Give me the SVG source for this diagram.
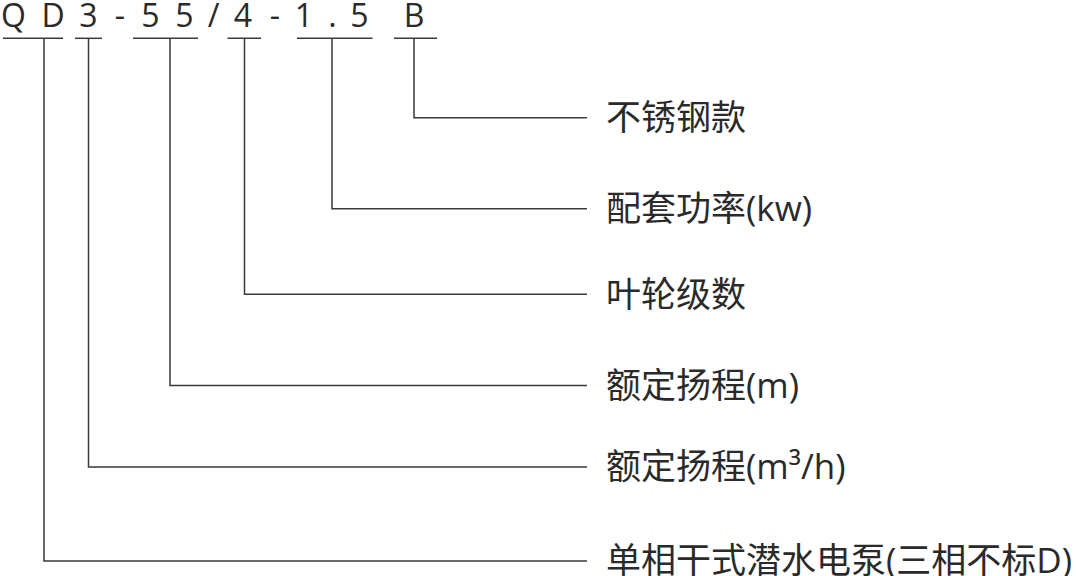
<svg xmlns="http://www.w3.org/2000/svg" width="1076" height="576" viewBox="0 0 1076 576">
<style>
  .code { font-family: "Open Sans", "Noto Sans", sans-serif; font-size: 32px; fill: #2a2a2a; text-anchor: middle; }
  .lbl { font-family: "Open Sans", "Noto Sans CJK SC", sans-serif; font-size: 35px; fill: #2a2a2a; }
  .ln { stroke: #3a3a3a; stroke-width: 1.5; fill: none; }
</style>
<rect width="1076" height="576" fill="#ffffff"/>
<g id="code">
  <text class="code" x="13.5" y="27">Q</text>
  <text class="code" x="53" y="27">D</text>
  <text class="code" x="88.5" y="27">3</text>
  <text class="code" x="120" y="27">-</text>
  <text class="code" x="150.5" y="27">5</text>
  <text class="code" x="184.5" y="27">5</text>
  <text class="code" x="213.5" y="27">/</text>
  <text class="code" x="243" y="27">4</text>
  <text class="code" x="275" y="27">-</text>
  <text class="code" x="304" y="27">1</text>
  <text class="code" x="332.5" y="27">.</text>
  <text class="code" x="359.5" y="27">5</text>
  <text class="code" x="414" y="27">B</text>
</g>
<g id="underlines">
  <line class="ln" x1="3" y1="38.3" x2="63" y2="38.3"/>
  <line class="ln" x1="75" y1="38.3" x2="102" y2="38.3"/>
  <line class="ln" x1="133" y1="38.3" x2="198" y2="38.3"/>
  <line class="ln" x1="227.5" y1="38.3" x2="261" y2="38.3"/>
  <line class="ln" x1="297" y1="38.3" x2="372.5" y2="38.3"/>
  <line class="ln" x1="394" y1="38.3" x2="437" y2="38.3"/>
</g>
<g id="connectors">
  <polyline class="ln" points="414,38.3 414,117.7 587,117.7"/>
  <polyline class="ln" points="332,38.3 332,208.7 587,208.7"/>
  <polyline class="ln" points="244.5,38.3 244.5,294.3 587,294.3"/>
  <polyline class="ln" points="170,38.3 170,385.5 587,385.5"/>
  <polyline class="ln" points="88.5,38.3 88.5,467 587,467"/>
  <polyline class="ln" points="44,38.3 44,561 587,561"/>
</g>
<g id="label-b"><text class="lbl" x="606" y="130">不锈钢款</text></g>
<g id="label-power"><text class="lbl" x="606" y="221">配套功率(kw)</text></g>
<g id="label-stages"><text class="lbl" x="606" y="306.5">叶轮级数</text></g>
<g id="label-head"><text class="lbl" x="606" y="397.5">额定扬程(m)</text></g>
<g id="label-flow"><text class="lbl" x="606" y="479">额定扬程(m³/h)</text></g>
<g id="label-type"><text class="lbl" x="606" y="573">单相干式潜水电泵(三相不标D)</text></g>
</svg>
